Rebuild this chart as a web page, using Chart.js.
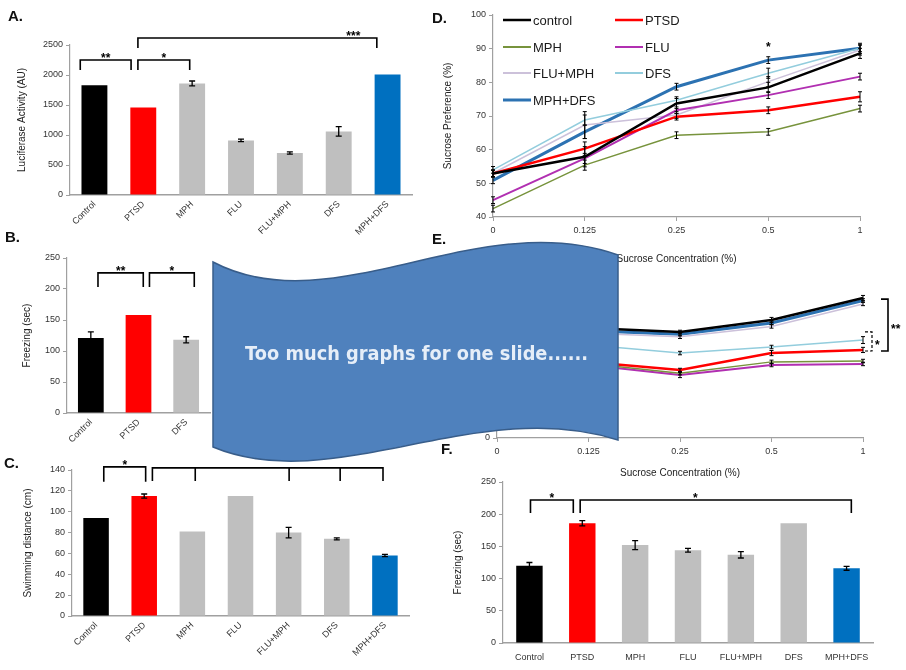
<!DOCTYPE html>
<html>
<head>
<meta charset="utf-8">
<script src="https://cdn.jsdelivr.net/npm/chart.js@4.4.0/dist/chart.umd.min.js"></script>
<style>
  body { margin: 0; background: #fff; }
  #board { position: relative; width: 906px; height: 670px; overflow: hidden; }
  #board canvas { position: absolute; }
  .tag { position: absolute; font: bold 15px 'Liberation Sans', Arial, sans-serif; color: #111; }
  #banner { position: absolute; left: 0; top: 0; pointer-events: none; }
</style>
</head>
<body>
<div id="board">
  <canvas id="chartA" width="420" height="235" style="left:0;top:0"></canvas>
  <canvas id="chartB" width="225" height="230" style="left:0;top:225px"></canvas>
  <canvas id="chartC" width="420" height="225" style="left:0;top:445px"></canvas>
  <canvas id="chartD" width="476" height="265" style="left:430px;top:0"></canvas>
  <canvas id="chartE" width="476" height="224" style="left:430px;top:255px"></canvas>
  <canvas id="chartF" width="466" height="200" style="left:440px;top:470px"></canvas>

  <div class="tag" style="left:8px;top:7px">A.</div>
  <div class="tag" style="left:5px;top:228px">B.</div>
  <div class="tag" style="left:4px;top:454px">C.</div>
  <div class="tag" style="left:432px;top:9px">D.</div>
  <div class="tag" style="left:432px;top:230px">E.</div>
  <div class="tag" style="left:441px;top:440px">F.</div>

  <svg id="banner" width="906" height="670">
    <path d="M213,262 C333,325 478,205 618,255 L618,440 C478,395 333,497 213,447 Z"
          fill="#4f81bd" stroke="#385d8a" stroke-width="1.5"/>
    <text x="245" y="360" textLength="343" lengthAdjust="spacingAndGlyphs"
          font-family="'DejaVu Sans', sans-serif" font-weight="bold" font-size="20"
          fill="#e6eef8">Too much graphs for one slide......</text>
  </svg>
</div>

<script>
// ---- groups shared by the bar panels ----
const groups = ['Control', 'PTSD', 'MPH', 'FLU', 'FLU+MPH', 'DFS', 'MPH+DFS'];
const groupColors = ['#000000', '#ff0000', '#bfbfbf', '#bfbfbf', '#bfbfbf', '#bfbfbf', '#0070c0'];

// A. luciferase activity
const lucValues = [1830, 1460, 1860, 910, 700, 1060, 2010];
const lucErr = [0, 0, 40, 20, 20, 80, 0];

// B. freezing, three groups
const freezeGroups = ['Control', 'PTSD', 'DFS'];
const freezeColors = ['#000000', '#ff0000', '#bfbfbf'];
const freezeValues = [121, 158, 118];
const freezeErr = [10, 0, 5];

// C. swimming distance
const swimValues = [94, 115, 81, 115, 80, 74, 58];
const swimErr = [0, 2, 0, 0, 5, 1, 1];

// D. / E. sucrose concentrations
const sucrose = ['0', '0.125', '0.25', '0.5', '1'];
const lineNames = ['control', 'PTSD', 'MPH', 'FLU', 'FLU+MPH', 'DFS', 'MPH+DFS'];
const lineColors = ['#000000', '#ff0000', '#77933c', '#b12fb1', '#ccc1da', '#93cddd', '#2c72b2'];
const lineWidths = [2.5, 2.5, 1.5, 2, 1.5, 1.5, 3];

const prefControl = [52.9, 57.9, 73.7, 78.5, 88.6];
const prefPTSD    = [52.9, 60.3, 69.8, 71.7, 75.7];
const prefMPH     = [42.5, 55.4, 64.3, 65.3, 72.2];
const prefFLU     = [45.0, 57.4, 71.7, 76.2, 81.7];
const prefFLUMPH  = [53.0, 67.3, 70.3, 80.2, 89.6];
const prefDFS     = [54.0, 68.8, 74.7, 82.7, 90.1];
const prefMPHDFS  = [50.9, 65.3, 78.7, 86.6, 90.1];
const prefErr = [
  [1, 3, 1.5, 1.5, 1.5], [1, 2, 1, 1, 1.5], [1, 1.5, 1, 1, 1], [1, 1.5, 1, 1, 1],
  [1, 4, 1, 1.5, 1.5], [1, 1.5, 1, 1.5, 1], [1, 2, 1, 1, 1.5]
];

const intakeControl = [66, 63.6, 61.3, 68.2, 80.9];
const intakePTSD    = [45, 43.9, 39.3, 49.1, 50.9];
const intakeMPH     = [44, 43.0, 37.5, 44.0, 44.5];
const intakeFLU     = [43, 42.2, 36.4, 42.2, 42.8];
const intakeFLUMPH  = [62, 60.5, 58.5, 64.5, 77.5];
const intakeDFS     = [55, 53.8, 49.1, 52.6, 56.6];
const intakeMPHDFS  = [64, 62.0, 60.0, 66.5, 79.5];
const intakeErr = [
  [1, 1, 1, 1.5, 1.5], [1, 1, 1, 1.5, 1.5], [1, 1, 1, 1, 1], [1, 1, 1.5, 1, 1],
  [1, 1, 1, 1, 1], [1, 1, 1, 1, 2], [1, 1, 1, 1, 1]
];

// F. freezing, all groups
const freezeFValues = [120, 186, 152, 144, 137, 186, 116];
const freezeFErr = [5, 4, 7, 3, 5, 0, 3];

Chart.defaults.font.family = "'Liberation Sans', Arial, sans-serif";
Chart.defaults.font.size = 9;
Chart.defaults.color = '#333';

const AXIS = '#a0a0a0';

// error bars, significance brackets, stars and the in-plot legend
function extras(spec) {
  return {
    id: 'extras',
    afterDatasetsDraw(chart) {
      const { ctx, scales: { x, y } } = chart;
      ctx.save();
      ctx.strokeStyle = '#000';
      ctx.fillStyle = '#000';
      const cap = spec.cap || 3;
      chart.data.datasets.forEach((ds, di) => {
        if (!ds.errors) return;
        chart.getDatasetMeta(di).data.forEach((el, i) => {
          const e = ds.errors[i];
          if (!e) return;
          const t = y.getPixelForValue(ds.data[i] + e);
          const b = y.getPixelForValue(ds.data[i] - e);
          ctx.lineWidth = spec.errWidth || 1.3;
          ctx.beginPath();
          ctx.moveTo(el.x, t); ctx.lineTo(el.x, b);
          ctx.moveTo(el.x - cap, t); ctx.lineTo(el.x + cap, t);
          ctx.moveTo(el.x - cap, b); ctx.lineTo(el.x + cap, b);
          ctx.stroke();
        });
      });

      ctx.font = "bold 12px 'Liberation Sans', Arial, sans-serif";
      ctx.textAlign = 'center';
      ctx.lineWidth = 1.6;
      (spec.brackets || []).forEach(b => {
        const x1 = x.getPixelForValue(b.from), x2 = x.getPixelForValue(b.to);
        const yy = y.getPixelForValue(b.at);
        const drop = b.drop || 10;
        ctx.beginPath();
        ctx.moveTo(x1, yy + drop); ctx.lineTo(x1, yy); ctx.lineTo(x2, yy); ctx.lineTo(x2, yy + drop);
        (b.ticks || []).forEach(t => {
          const tx = x.getPixelForValue(t);
          ctx.moveTo(tx, yy); ctx.lineTo(tx, yy + drop);
        });
        ctx.stroke();
        if (b.text) {
          const tx = b.textAt !== undefined ? x.getPixelForValue(b.textAt) : (x1 + x2) / 2;
          ctx.fillText(b.text, tx, yy + 2);
        }
      });
      (spec.vbrackets || []).forEach(b => {
        const x0 = x.getPixelForValue(b.at) + b.dx;
        const y1 = y.getPixelForValue(b.from), y2 = y.getPixelForValue(b.to);
        ctx.setLineDash(b.dash ? [3, 2] : []);
        ctx.lineWidth = b.dash ? 1.2 : 1.6;
        ctx.beginPath();
        ctx.moveTo(x0 - 7, y1); ctx.lineTo(x0, y1); ctx.lineTo(x0, y2); ctx.lineTo(x0 - 7, y2);
        ctx.stroke();
        ctx.setLineDash([]);
        ctx.textAlign = 'left';
        ctx.fillText(b.text, x0 + 3, (y1 + y2) / 2 + 8);
        ctx.textAlign = 'center';
      });
      (spec.stars || []).forEach(s => {
        ctx.fillText(s.text, x.getPixelForValue(s.at), y.getPixelForValue(s.v) + 8);
      });

      if (spec.legend) {
        const L = spec.legend;
        ctx.font = "13px 'Liberation Sans', Arial, sans-serif";
        ctx.textAlign = 'left';
        ctx.textBaseline = 'middle';
        chart.data.datasets.forEach((ds, i) => {
          const lx = L.cols[i % 2], ly = L.rows[Math.floor(i / 2)];
          ctx.strokeStyle = ds.borderColor;
          ctx.lineWidth = Math.max(ds.borderWidth, 2);
          ctx.beginPath(); ctx.moveTo(lx, ly); ctx.lineTo(lx + 28, ly); ctx.stroke();
          ctx.fillStyle = '#1a1a1a';
          ctx.fillText(ds.label, lx + 30, ly + 1);
        });
      }
      ctx.restore();
    }
  };
}

function yAxis(min, max, step, title, titlePad, width) {
  return {
    min, max,
    ticks: { stepSize: step, padding: 3, callback: v => String(v) },
    grid: { drawOnChartArea: false, tickLength: 4, color: AXIS },
    border: { color: AXIS, width: 1.2 },
    title: { display: !!title, text: title, color: '#222', font: { size: 10 }, padding: { top: titlePad, bottom: 0 } },
    afterFit: s => { s.width = width; }
  };
}

function barX(height, rotate) {
  return {
    grid: { display: false, drawTicks: false },
    border: { color: AXIS, width: 1.5 },
    ticks: { autoSkip: false, minRotation: rotate, maxRotation: rotate, padding: rotate ? 4 : 9 },
    afterFit: s => { s.height = height; }
  };
}

function barChart(id, labels, values, errors, colors, opt) {
  return new Chart(document.getElementById(id), {
    type: 'bar',
    data: {
      labels,
      datasets: [{ data: values, errors, backgroundColor: colors, barPercentage: 1, categoryPercentage: opt.width }]
    },
    options: {
      responsive: false, animation: false,
      layout: { padding: opt.padding },
      plugins: { legend: { display: false }, tooltip: { enabled: false } },
      scales: { x: barX(opt.xHeight, opt.rotate), y: opt.y }
    },
    plugins: [extras(opt.extras)]
  });
}

// A.
barChart('chartA', groups, lucValues, lucErr, groupColors, {
  width: 0.53, rotate: 45, xHeight: 40,
  padding: { top: 45, right: 8, left: 12, bottom: 0 },
  y: yAxis(0, 2500, 500, 'Luciferase Activity (AU)', 4, 58),
  extras: {
    brackets: [
      { from: -0.29, to: 0.75, at: 2250, text: '**' },
      { from: 0.89, to: 1.95, at: 2250, text: '*' },
      { from: 0.89, to: 5.78, at: 2617, text: '***', textAt: 5.3 }
    ]
  }
});

// B.
barChart('chartB', freezeGroups, freezeValues, freezeErr, freezeColors, {
  width: 0.54, rotate: 45, xHeight: 42,
  padding: { top: 33, right: 15, left: 12, bottom: 0 },
  y: yAxis(0, 250, 50, 'Freezing (sec)', 9, 55),
  extras: {
    brackets: [
      { from: 0.15, to: 1.1, at: 226, drop: 14, text: '**' },
      { from: 1.23, to: 2.17, at: 226, drop: 14, text: '*' }
    ]
  }
});

// C.
barChart('chartC', groups, swimValues, swimErr, groupColors, {
  width: 0.53, rotate: 45, xHeight: 54,
  padding: { top: 25, right: 11, left: 12, bottom: 0 },
  y: yAxis(0, 140, 20, 'Swimming distance (cm)', 10, 60),
  extras: {
    brackets: [
      { from: 0.16, to: 1.03, at: 143, drop: 15, text: '*' },
      { from: 1.17, to: 5.96, at: 142, drop: 13, ticks: [2.06, 4.01, 5.07] }
    ]
  }
});

// F.
barChart('chartF', groups, freezeFValues, freezeFErr, groupColors, {
  width: 0.5, rotate: 0, xHeight: 27,
  padding: { top: 12, right: 33, left: 12, bottom: 0 },
  y: yAxis(0, 250, 50, 'Freezing (sec)', 0, 51),
  extras: {
    brackets: [
      { from: 0.02, to: 0.83, at: 222, drop: 13, text: '*' },
      { from: 0.96, to: 6.09, at: 222, drop: 13, text: '*', textAt: 3.14 }
    ]
  }
});

function lineSets(series, errs) {
  return series.map((data, i) => ({
    label: lineNames[i], data, errors: errs[i],
    borderColor: lineColors[i], borderWidth: lineWidths[i],
    pointRadius: 0, tension: 0, fill: false
  }));
}

function lineX(height, titlePad) {
  return {
    offset: false,
    grid: { drawOnChartArea: false, tickLength: 4, color: AXIS },
    border: { color: AXIS, width: 1.2 },
    ticks: { padding: 4 },
    title: { display: true, text: 'Sucrose Concentration (%)', color: '#222', font: { size: 10 }, padding: { top: titlePad, bottom: 0 } },
    afterFit: s => { s.height = height; }
  };
}

// D.
new Chart(document.getElementById('chartD'), {
  type: 'line',
  data: {
    labels: sucrose,
    datasets: lineSets([prefControl, prefPTSD, prefMPH, prefFLU, prefFLUMPH, prefDFS, prefMPHDFS], prefErr)
  },
  options: {
    responsive: false, animation: false,
    layout: { padding: { top: 15, right: 46, left: 12, bottom: 0 } },
    plugins: { legend: { display: false }, tooltip: { enabled: false } },
    scales: { x: lineX(48, 10), y: yAxis(40, 100, 10, 'Sucrose Preference (%)', 0, 51) }
  },
  plugins: [extras({
    cap: 2, errWidth: 1,
    stars: [{ at: 3, v: 91.6, text: '*' }],
    legend: { cols: [73, 185], rows: [20, 47, 73, 100] }
  })]
});

// E.
new Chart(document.getElementById('chartE'), {
  type: 'line',
  data: {
    labels: sucrose,
    datasets: lineSets([intakeControl, intakePTSD, intakeMPH, intakeFLU, intakeFLUMPH, intakeDFS, intakeMPHDFS], intakeErr)
  },
  options: {
    responsive: false, animation: false,
    layout: { padding: { top: 10, right: 43, left: 12, bottom: 0 } },
    plugins: { legend: { display: false }, tooltip: { enabled: false } },
    scales: { x: lineX(41, 0), y: yAxis(0, 100, 20, 'Sucrose Intake (ml)', 0, 55) }
  },
  plugins: [extras({
    cap: 2, errWidth: 1,
    vbrackets: [
      { at: 4, dx: 25, from: 80.3, to: 50.3, text: '**' },
      { at: 4, dx: 9, from: 61.3, to: 50.3, text: '*', dash: true }
    ]
  })]
});
</script>
</body>
</html>
